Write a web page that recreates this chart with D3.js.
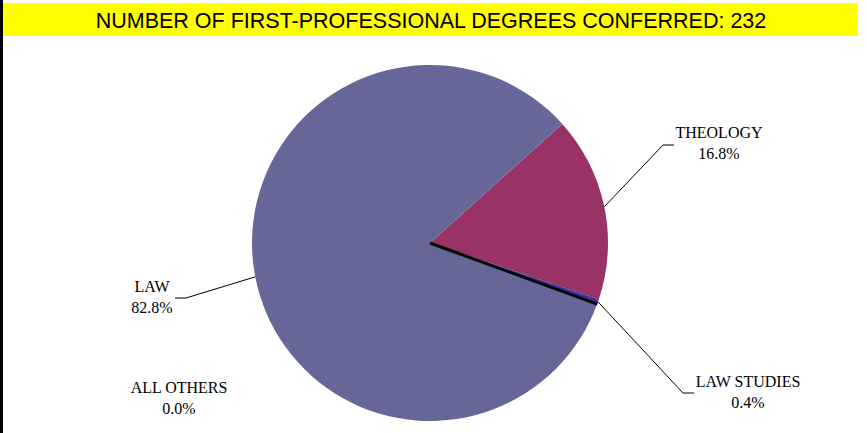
<!DOCTYPE html>
<html>
<head>
<meta charset="utf-8">
<script src="https://cdn.jsdelivr.net/npm/d3@7"></script>
<style>
  body { margin: 0; background: #fff; }
  svg { display: block; }
  .lbl { font-family: "Liberation Serif", "Times New Roman", serif; font-size: 16px; fill: #000; }
</style>
</head>
<body>
<svg id="chart"></svg>
<script>
// slice order as drawn clockwise from the theology edge
const categories = ["THEOLOGY", "LAW STUDIES", "ALL OTHERS", "LAW"];
const degrees = [39, 1, 0, 192];
const pctLabels = ["16.8%", "0.4%", "0.0%", "82.8%"];
const colors = ["#993366", "#333399", "#000000", "#666699"];
const totalDegrees = 232;

const width = 867, height = 433;
const cx = 430, cy = 243, radius = 178;

// label placement (text centre + leader elbow/end), null = no leader
const labelPos = {
  "THEOLOGY":    {x: 719, y: 138, elbow: [663, 145], end: [674, 145]},
  "LAW STUDIES": {x: 748, y: 387, elbow: [683, 393], end: [694, 393]},
  "ALL OTHERS":  {x: 179, y: 393, elbow: null},
  "LAW":         {x: 152, y: 292, elbow: [186, 298], end: [175, 298]}
};

const svg = d3.select("#chart")
    .attr("width", width)
    .attr("height", height);

// black strip down the left edge
svg.append("rect")
    .attr("x", 0).attr("y", 0)
    .attr("width", 3).attr("height", height)
    .attr("fill", "#000");

// yellow title banner
svg.append("rect")
    .attr("x", 3).attr("y", 3)
    .attr("width", 855).attr("height", 33)
    .attr("fill", "#ffff00");

svg.append("text")
    .attr("x", 431)
    .attr("y", 28)
    .attr("text-anchor", "middle")
    .style("font-family", "'Liberation Sans', Arial, sans-serif")
    .style("font-size", "21.5px")
    .text("NUMBER OF FIRST-PROFESSIONAL DEGREES CONFERRED: " + totalDegrees);

const data = categories.map((c, i) => ({name: c, value: degrees[i], pct: pctLabels[i], color: colors[i]}));

const startA = 48 * Math.PI / 180;
const pie = d3.pie()
    .sort(null)
    .value(d => d.value)
    .startAngle(startA)
    .endAngle(startA + 2 * Math.PI)(data);

const arc = d3.arc().innerRadius(0).outerRadius(radius);

const g = svg.append("g")
    .attr("transform", `translate(${cx},${cy})`);

g.selectAll("path.slice")
  .data(pie.filter(d => d.data.value > 0))
  .enter().append("path")
    .attr("class", "slice")
    .attr("d", arc)
    .attr("fill", d => d.data.color);

// zero-value slice shows up as a black radius line
pie.filter(d => d.data.value === 0).forEach(function(d) {
    g.append("line")
        .attr("x1", 0).attr("y1", 0)
        .attr("x2", radius * Math.sin(d.startAngle))
        .attr("y2", -radius * Math.cos(d.startAngle))
        .attr("stroke", d.data.color)
        .attr("stroke-width", 3);
});

// leader lines
pie.forEach(function(d) {
    const p = labelPos[d.data.name];
    if (!p.elbow) return;
    const mid = (d.startAngle + d.endAngle) / 2;
    const sx = cx + radius * Math.sin(mid), sy = cy - radius * Math.cos(mid);
    svg.append("polyline")
        .attr("points", [[sx, sy], p.elbow, p.end].map(q => q.join(",")).join(" "))
        .attr("fill", "none")
        .attr("stroke", "#000")
        .attr("stroke-width", 1);
});

// labels
pie.forEach(function(d) {
    const p = labelPos[d.data.name];
    const t = svg.append("text")
        .attr("class", "lbl")
        .attr("text-anchor", "middle");
    t.append("tspan").attr("x", p.x).attr("y", p.y).text(d.data.name);
    t.append("tspan").attr("x", p.x).attr("y", p.y + 21).text(d.data.pct);
});
</script>
</body>
</html>
